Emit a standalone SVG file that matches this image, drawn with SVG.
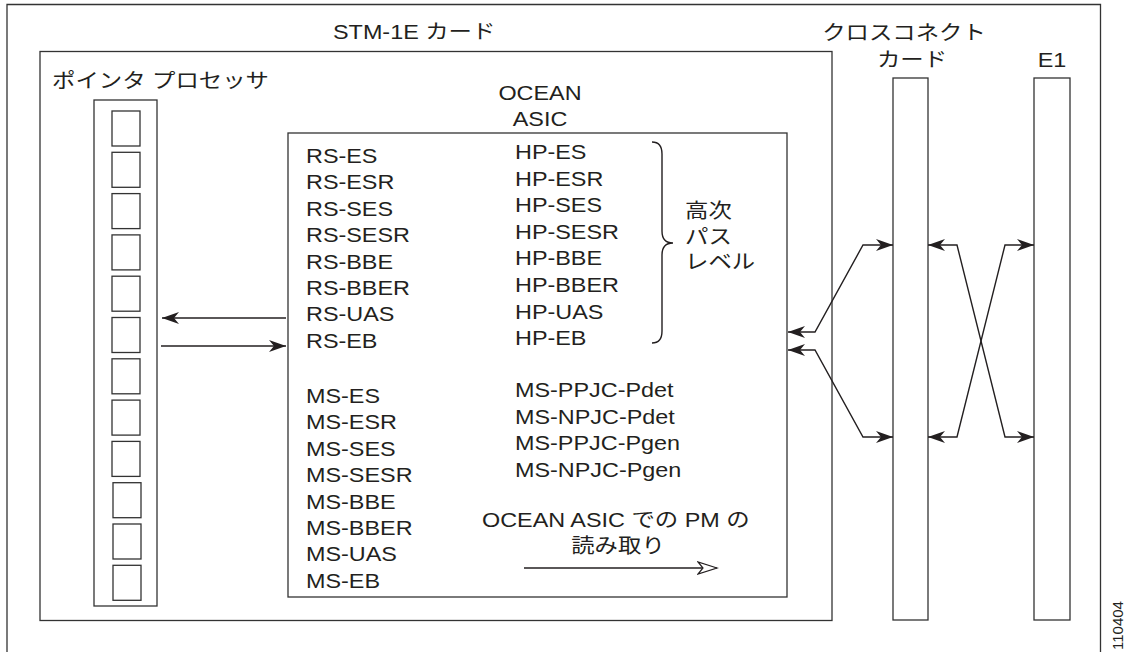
<svg xmlns="http://www.w3.org/2000/svg" width="1138" height="652" viewBox="0 0 1138 652">
<style>
.box{fill:none;stroke:#333;stroke-width:1.3}
.sq{fill:#fff;stroke:#333;stroke-width:1.3}
.t{font-family:"Liberation Sans","Noto Sans CJK JP",sans-serif;font-size:20px;fill:#231f20}
.ln{fill:none;stroke:#231f20;stroke-width:1.4}
.id{font-family:"Liberation Sans",sans-serif;font-size:15px;fill:#231f20}
</style>
<defs>
<marker id="ah" markerUnits="userSpaceOnUse" markerWidth="20" markerHeight="14" viewBox="0 0 20 14" refX="18" refY="7" orient="auto-start-reverse">
<path d="M18,7 L1,1 L6,7 L1,13 Z" fill="#231f20"/>
</marker>
<marker id="oh" markerUnits="userSpaceOnUse" markerWidth="22" markerHeight="16" viewBox="0 0 22 16" refX="20" refY="8" orient="auto">
<path d="M20,8 L1,2 L6,8 L1,14 Z" fill="#fff" stroke="#231f20" stroke-width="1.2"/>
</marker>
</defs>
<rect width="1138" height="652" fill="#fff"/>
<g id="outer-frame">
<path class="box" d="M7,652 V4.5 H1100.5 V652"/>
<text class="id" transform="translate(1123,650) rotate(-90)">110404</text>
</g>
<g id="stm1e-card">
<rect class="box" x="40" y="51.5" width="792" height="569"/>
<text class="t" transform="translate(333,39) scale(1.17,1)">STM-1E カード</text>
</g>
<g id="pointer-processor">
<text class="t" transform="translate(52,88) scale(1.17,1)">ポインタ プロセッサ</text>
<rect class="box" x="94" y="100" width="63" height="506"/>
<rect class="sq" x="112" y="111" width="28" height="35"/>
<rect class="sq" x="112" y="152.3" width="28" height="35"/>
<rect class="sq" x="112" y="193.6" width="28" height="35"/>
<rect class="sq" x="112" y="234.9" width="28" height="35"/>
<rect class="sq" x="112" y="276.2" width="28" height="35"/>
<rect class="sq" x="112" y="317.5" width="28" height="35"/>
<rect class="sq" x="112" y="358.8" width="28" height="35"/>
<rect class="sq" x="112" y="400.1" width="28" height="35"/>
<rect class="sq" x="112" y="441.4" width="28" height="35"/>
<rect class="sq" x="113" y="482.7" width="28" height="35"/>
<rect class="sq" x="113" y="524" width="28" height="35"/>
<rect class="sq" x="113" y="565.3" width="28" height="35"/>
</g>
<g id="ocean-asic">
<text class="t" text-anchor="middle" transform="translate(540,100) scale(1.17,1)">OCEAN</text>
<text class="t" text-anchor="middle" transform="translate(540,126) scale(1.17,1)">ASIC</text>
<rect class="box" x="288" y="133" width="499" height="464"/>
<text class="t" transform="translate(306,163) scale(1.17,1)">RS-ES</text>
<text class="t" transform="translate(306,189.4) scale(1.17,1)">RS-ESR</text>
<text class="t" transform="translate(306,215.8) scale(1.17,1)">RS-SES</text>
<text class="t" transform="translate(306,242.2) scale(1.17,1)">RS-SESR</text>
<text class="t" transform="translate(306,268.6) scale(1.17,1)">RS-BBE</text>
<text class="t" transform="translate(306,295) scale(1.17,1)">RS-BBER</text>
<text class="t" transform="translate(306,321.4) scale(1.17,1)">RS-UAS</text>
<text class="t" transform="translate(306,347.8) scale(1.17,1)">RS-EB</text>
<text class="t" transform="translate(515,159) scale(1.17,1)">HP-ES</text>
<text class="t" transform="translate(515,185.6) scale(1.17,1)">HP-ESR</text>
<text class="t" transform="translate(515,212.2) scale(1.17,1)">HP-SES</text>
<text class="t" transform="translate(515,238.8) scale(1.17,1)">HP-SESR</text>
<text class="t" transform="translate(515,265.4) scale(1.17,1)">HP-BBE</text>
<text class="t" transform="translate(515,292) scale(1.17,1)">HP-BBER</text>
<text class="t" transform="translate(515,318.6) scale(1.17,1)">HP-UAS</text>
<text class="t" transform="translate(515,345.2) scale(1.17,1)">HP-EB</text>
<path class="ln" d="M652,142 Q662,142 662,154 L662,231 Q662,243 673,243 Q662,243 662,255 L662,331 Q662,343 652,343"/>
<text class="t" transform="translate(685,218) scale(1.17,1)">高次</text>
<text class="t" transform="translate(685,244) scale(1.17,1)">パス</text>
<text class="t" transform="translate(685,269) scale(1.17,1)">レベル</text>
<text class="t" transform="translate(306,403) scale(1.17,1)">MS-ES</text>
<text class="t" transform="translate(306,429.4) scale(1.17,1)">MS-ESR</text>
<text class="t" transform="translate(306,455.8) scale(1.17,1)">MS-SES</text>
<text class="t" transform="translate(306,482.2) scale(1.17,1)">MS-SESR</text>
<text class="t" transform="translate(306,508.6) scale(1.17,1)">MS-BBE</text>
<text class="t" transform="translate(306,535) scale(1.17,1)">MS-BBER</text>
<text class="t" transform="translate(306,561.4) scale(1.17,1)">MS-UAS</text>
<text class="t" transform="translate(306,587.8) scale(1.17,1)">MS-EB</text>
<text class="t" transform="translate(515,397) scale(1.17,1)">MS-PPJC-Pdet</text>
<text class="t" transform="translate(515,423.7) scale(1.17,1)">MS-NPJC-Pdet</text>
<text class="t" transform="translate(515,450.4) scale(1.17,1)">MS-PPJC-Pgen</text>
<text class="t" transform="translate(515,477.1) scale(1.17,1)">MS-NPJC-Pgen</text>
<text class="t" transform="translate(482,527) scale(1.17,1)">OCEAN ASIC での PM の</text>
<text class="t" text-anchor="middle" transform="translate(618,553) scale(1.17,1)">読み取り</text>
</g>
<g id="cross-connect-card">
<text class="t" text-anchor="middle" transform="translate(904,40) scale(1.17,1)">クロスコネクト</text>
<text class="t" text-anchor="middle" transform="translate(912,67) scale(1.17,1)">カード</text>
<rect class="box" x="893" y="78" width="35" height="542"/>
</g>
<g id="e1-card">
<text class="t" text-anchor="middle" transform="translate(1052,67) scale(1.17,1)">E1</text>
<rect class="box" x="1034" y="78" width="36" height="542"/>
</g>
<g id="connectors">
<path class="ln" d="M286,318 H162" marker-end="url(#ah)"/>
<path class="ln" d="M161,346 H286" marker-end="url(#ah)"/>
<path class="ln" d="M524,568 H717" marker-end="url(#oh)"/>
<polyline class="ln" points="788,332 815,332 863,245 893,245" marker-start="url(#ah)" marker-end="url(#ah)"/>
<polyline class="ln" points="788,350 815,350 863,437 893,437" marker-start="url(#ah)" marker-end="url(#ah)"/>
<polyline class="ln" points="928,245 957,245 1005,437 1034,437" marker-start="url(#ah)" marker-end="url(#ah)"/>
<polyline class="ln" points="928,437 957,437 1005,245 1034,245" marker-start="url(#ah)" marker-end="url(#ah)"/>
</g>
</svg>
